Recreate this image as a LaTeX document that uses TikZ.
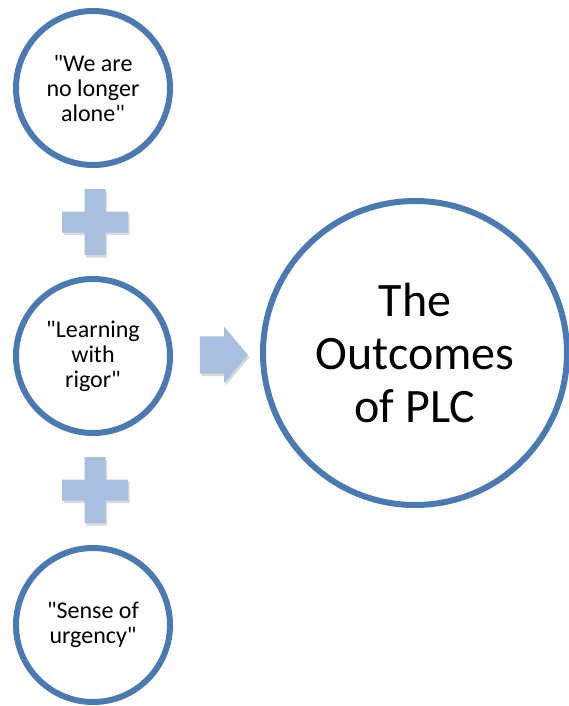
\documentclass[tikz,border=0pt]{standalone}
\usepackage{fontspec}
\setmainfont{Carlito}[Ligatures=TeXOff]
\usepackage{xcolor}
\usetikzlibrary{positioning,shapes.arrows,shadows}

\definecolor{ringblue}{RGB}{74,122,178}
\definecolor{softblue}{RGB}{170,190,224}

\begin{document}
\begin{tikzpicture}[
    x=1pt, y=-1pt,
    softshadow/.style = {drop shadow={shadow xshift=1.5pt, shadow yshift=-2.5pt, opacity=0.15, fill=black}},
    idea/.style = {
        circle,
        draw=ringblue,
        line width=6pt,
        fill=white,
        minimum size=154pt,
        align=center,
        inner sep=0pt,
        font=\fontsize{24}{25}\selectfont,
        softshadow
    },
    outcome/.style = {idea, minimum size=304pt, font=\fontsize{48}{53}\selectfont},
    flowarrow/.style = {
        single arrow,
        fill=softblue,
        minimum height=48pt,
        inner xsep=0pt,
        inner ysep=18.5pt,
        single arrow head extend=9.5pt,
        single arrow tip angle=100,
        softshadow
    },
    plussign/.style = {fill=softblue, softshadow}
]

\useasboundingbox (0,0) rectangle (568,706);

% Spacing of the left column
\def\colx{93}
\def\rowgap{268}

% Left column: the three ideas
\node[idea] (alone)   at (\colx,88)          {"We are\\no longer\\alone"};
\node[idea] (rigor)   at (\colx,88+\rowgap)  {"Learning\\with\\rigor"};
\node[idea] (urgency) at (\colx,625)         {"Sense of\\urgency"};

% Plus signs between the ideas
\coordinate (plusA) at (95,222);
\coordinate (plusB) at (95,490);
\foreach \p in {plusA,plusB}
  \fill[plussign, shift={(\p)}]
    (-10.5,-33) -- (10.5,-33) -- (10.5,-10.5) -- (33,-10.5) -- (33,10.5)
    -- (10.5,10.5) -- (10.5,33) -- (-10.5,33) -- (-10.5,10.5) -- (-33,10.5)
    -- (-33,-10.5) -- (-10.5,-10.5) -- cycle;

% Result on the right
\node[outcome] (plc) at (415,353) {The\\Outcomes\\of PLC};

% Arrow from the middle idea to the result
\node[flowarrow] (toplc) at (216,355) {};

\end{tikzpicture}
\end{document}
